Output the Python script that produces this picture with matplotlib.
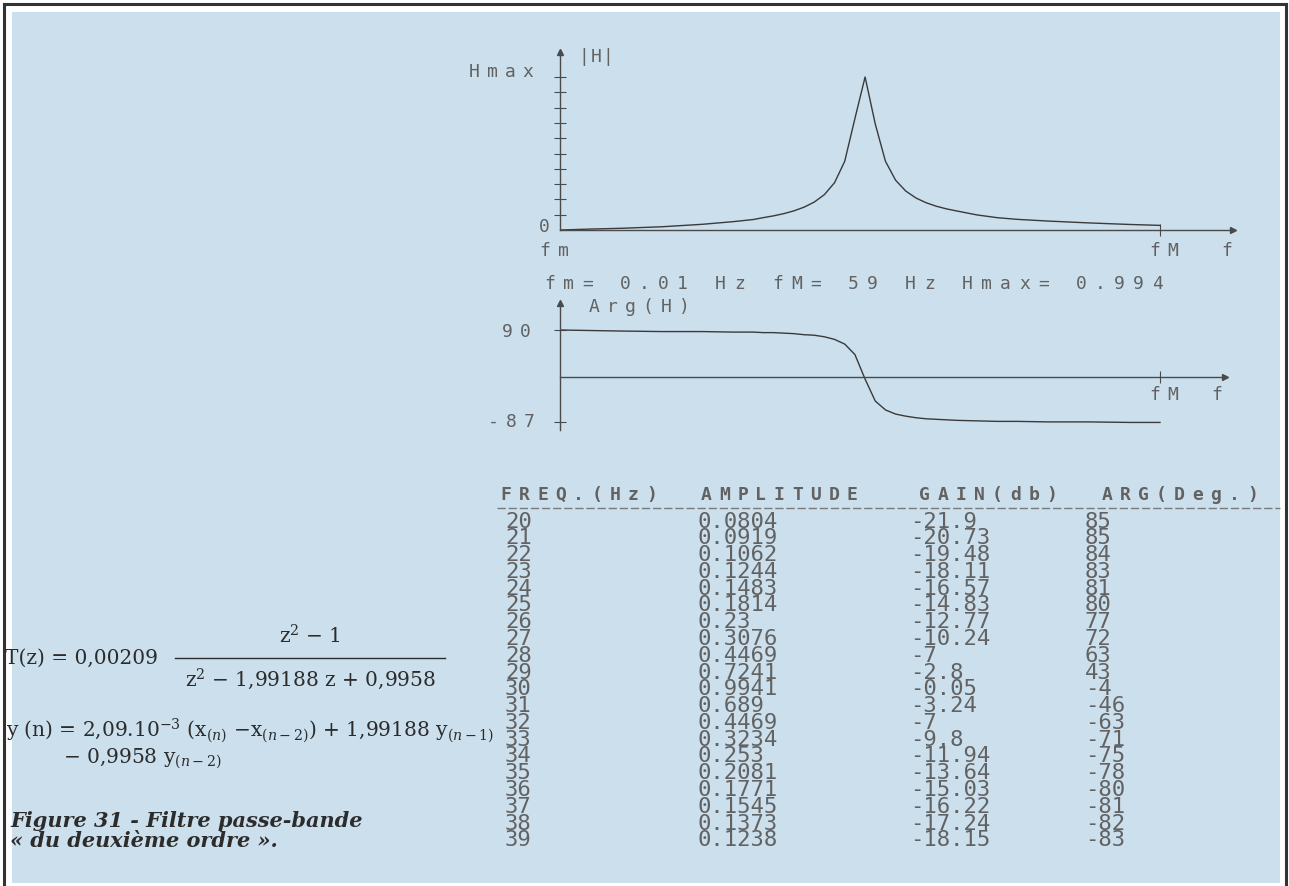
import matplotlib
matplotlib.use("Agg")
from matplotlib import pyplot as plt
from matplotlib.patches import Rectangle
from matplotlib.lines import Line2D

W, H = 1289, 886

PAPER = '#cbdfec'
DOT = '#626262'
INK = '#2c2c2c'
AXIS = '#4a4a4a'
MONO = 'DejaVu Sans Mono'

FM, FMAX, HMAX = 0.01, 59, 0.994

# printed table (20 .. 39 Hz)
FREQ = list(range(20, 40))
AMPLITUDE = [0.0804, 0.0919, 0.1062, 0.1244, 0.1483, 0.1814, 0.23, 0.3076, 0.4469, 0.7241,
             0.9941, 0.689, 0.4469, 0.3234, 0.253, 0.2081, 0.1771, 0.1545, 0.1373, 0.1238]
GAIN = [-21.9, -20.73, -19.48, -18.11, -16.57, -14.83, -12.77, -10.24, -7, -2.8,
        -0.05, -3.24, -7, -9.8, -11.94, -13.64, -15.03, -16.22, -17.24, -18.15]
ARG = [85, 85, 84, 83, 81, 80, 77, 72, 63, 43,
       -4, -46, -63, -71, -75, -78, -80, -81, -82, -83]

# curve outside the table
LOW_F = [FM, 3, 6, 10, 14, 17, 19]
LOW_AMP = [0.0, 0.006, 0.011, 0.021, 0.037, 0.054, 0.068]
LOW_ARG = [90, 89, 88, 87, 87, 86, 86]
HIGH_F = [41, 43, 45, 48, 52, 56, FMAX]
HIGH_AMP = [0.098, 0.08, 0.069, 0.058, 0.046, 0.036, 0.03]
HIGH_ARG = [-84, -85, -85, -86, -86, -87, -87]


def fx(px):
    return px / W


def fy(py):
    return 1 - py / H


def dot_text(x, y, s, pitch=18.0, size=13, color=DOT, weight='normal'):
    """ Wide-pitch screen/printer text: one glyph per fixed cell, pixels from top-left. """
    for i, ch in enumerate(s):
        if ch == ' ':
            continue
        fig.text(fx(x + i * pitch + pitch / 2), fy(y), ch, ha='center', va='center',
                 family=MONO, size=size, color=color, weight=weight)


fig = plt.figure(figsize=(W / 100, H / 100), dpi=100)
fig.patch.set_facecolor('white')
fig.patches.append(Rectangle((fx(12), fy(883)), fx(1280 - 12), (883 - 12) / H,
                             transform=fig.transFigure,
                             facecolor=PAPER, edgecolor='none', zorder=-10))
for xs, ys in [([4, 4], [4, 886]), ([4, 1286], [4, 4]), ([1286, 1286], [4, 886])]:
    fig.add_artist(Line2D([fx(v) for v in xs], [fy(v) for v in ys], color='#333333', lw=2.2))

freqs = LOW_F + FREQ + HIGH_F
amps = LOW_AMP + AMPLITUDE + HIGH_AMP
args = LOW_ARG + ARG + HIGH_ARG

x0, x_fmax = 560, 1160
px_per_hz = (x_fmax - x0) / FMAX

# |H| plot
top_end, base_y, hmax_y, y_top = 1233, 230, 77, 52
ax1 = fig.add_axes([fx(x0), fy(base_y), fx(top_end - x0), (base_y - y_top) / H])
ax1.set_xlim(0, (top_end - x0) / px_per_hz)
ax1.set_ylim(0, HMAX * (base_y - y_top) / (base_y - hmax_y))
ax1.plot(freqs, amps, color='#3a3a3a', lw=1.0)
ax1.set_yticks([HMAX * k / 10 for k in range(1, 11)])
ax1.set_xticks([FMAX])

# Arg(H) plot
ph_end, zero_y, y90, ph_top, ph_bot = 1225, 377, 330, 303, 430
px_per_deg = (zero_y - y90) / 90
ax2 = fig.add_axes([fx(x0), fy(ph_bot), fx(ph_end - x0), (ph_bot - ph_top) / H])
ax2.set_xlim(0, (ph_end - x0) / px_per_hz)
ax2.set_ylim(-(ph_bot - zero_y) / px_per_deg, (zero_y - ph_top) / px_per_deg)
ax2.plot(freqs, args, color='#3a3a3a', lw=1.0)
ax2.spines['bottom'].set_position(('data', 0))
ax2.set_yticks([90, -87])
ax2.set_xticks([FMAX])

for ax in (ax1, ax2):
    ax.patch.set_visible(False)
    ax.spines['top'].set_visible(False)
    ax.spines['right'].set_visible(False)
    for side in ('left', 'bottom'):
        ax.spines[side].set_color(AXIS)
        ax.spines[side].set_linewidth(1.0)
    ax.tick_params(direction='inout', length=9, width=0.8, color=AXIS,
                   labelleft=False, labelbottom=False)
    # arrow heads on both axes
    ax.plot(1, 0, '>', transform=ax.get_yaxis_transform(), clip_on=False,
            ms=5, color=AXIS)
    ax.plot(0, 1, '^', transform=ax.get_xaxis_transform(), clip_on=False,
            ms=4, color=AXIS)

# plot annotations
dot_text(578, 57, '|H|', pitch=12)
dot_text(465, 72, 'Hmax')
dot_text(535, 227, '0')
dot_text(536, 251, 'fm')
dot_text(1146, 251, 'fM')
dot_text(1218, 251, 'f')
dot_text(540, 284, f'fm= {FM} Hz fM= {FMAX} Hz Hmax= {HMAX}', pitch=19)
dot_text(585, 307, 'Arg(H)')
dot_text(498, 332, '90')
dot_text(484, 422, '-87')
dot_text(1146, 395, 'fM')
dot_text(1208, 395, 'f')

# table: expanded header, then one multi-line text per column
dot_text(497, 495, 'FREQ.(Hz)  AMPLITUDE   GAIN(db)  ARG(Deg.)', pitch=18.2, weight='bold')
fig.add_artist(Line2D([fx(497), fx(1280)], [fy(508), fy(508)], color='#7a7a7a',
                      lw=1.0, ls=(0, (6, 2))))

TABLE_SIZE = 16
row0, row_step = 520, 16.6
# measure the line step that matplotlib uses at linespacing 1 for this font
renderer = fig.canvas.get_renderer()
one = fig.text(0, 0, '0', family=MONO, size=TABLE_SIZE, linespacing=1.0)
two = fig.text(0, 0, '0\n0', family=MONO, size=TABLE_SIZE, linespacing=1.0)
step1 = two.get_window_extent(renderer).height - one.get_window_extent(renderer).height
one.remove()
two.remove()
spacing = 0.962 * row_step / step1
digit_h = 0.73 * TABLE_SIZE * 100 / 72
top_px = row0 + digit_h / 2 - step1 + 3.5

columns = [(505, [f'{v}' for v in FREQ]),
           (697, [f'{v:g}' for v in AMPLITUDE]),
           (910, [f'{v:g}' for v in GAIN]),
           (1085, [f'{v:g}' for v in ARG])]
for cx, rows in columns:
    fig.text(fx(cx), fy(top_px), '\n'.join(rows), ha='left', va='top',
             family=MONO, size=TABLE_SIZE, color=DOT, linespacing=spacing)

# transfer function and recurrence
plt.rcParams['mathtext.fontset'] = 'dejavuserif'
serif = dict(family='DejaVu Serif', size=14.5, color=INK, va='center')
fig.text(fx(5), fy(658), 'T(z) = 0,00209', **serif)
fig.text(fx(310), fy(636), 'z$^2$ − 1', ha='center', **serif)
fig.add_artist(Line2D([fx(175), fx(445)], [fy(658), fy(658)], color=INK, lw=1.0))
fig.text(fx(310), fy(679), 'z$^2$ − 1,99188 z + 0,9958', ha='center', **serif)
fig.text(fx(6), fy(731),
         r'y (n) = 2,09.10$^{-3}$ (x$_{(n)}$ −x$_{(n-2)}$) + 1,99188 y$_{(n-1)}$', **serif)
fig.text(fx(63), fy(759), r'− 0,9958 y$_{(n-2)}$', **serif)

fig.text(fx(10), fy(831), 'Figure 31 - Filtre passe-bande\n« du deuxième ordre ».',
         family='DejaVu Serif', size=15, color=INK, va='center', weight='bold',
         style='italic', linespacing=1.05)

fig.savefig('out.png', dpi=100)
